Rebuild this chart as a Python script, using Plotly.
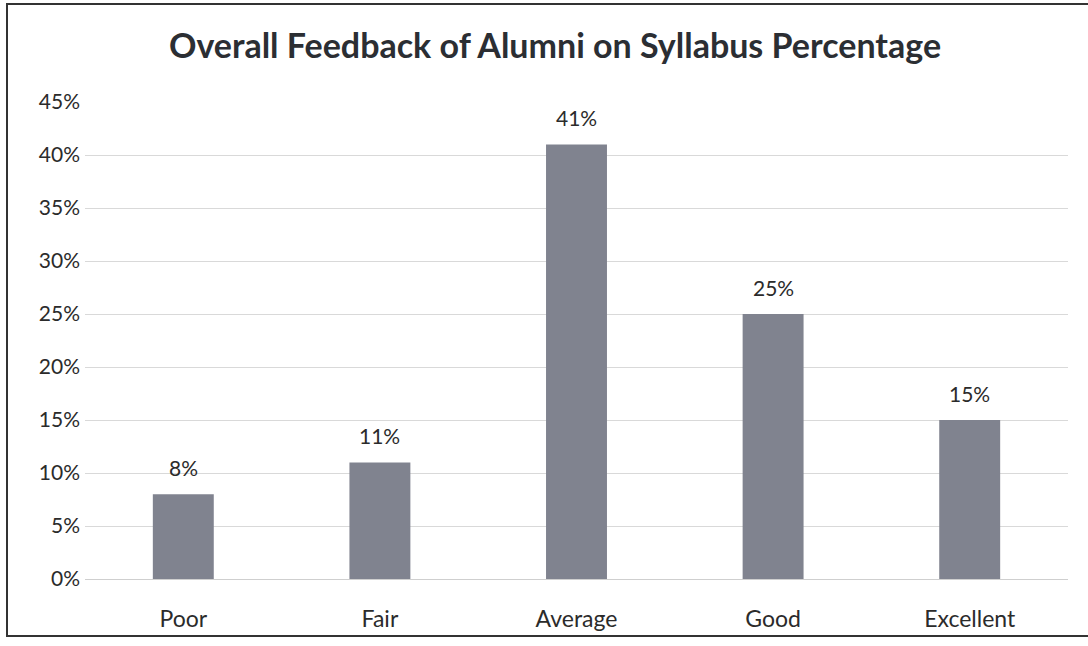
import plotly.graph_objects as go

categories = ["Poor", "Fair", "Average", "Good", "Excellent"]
values = [0.08, 0.11, 0.41, 0.25, 0.15]
tick_vals = [0, 0.05, 0.10, 0.15, 0.20, 0.25, 0.30, 0.35, 0.40, 0.45]
labels = [f"{round(v * 100)}%" for v in values]

W, H = 1088, 646
ml, mr, mt, mb = 85, 20, 102, 67
pw, ph = W - ml - mr, H - mt - mb
FONT = "Lato, Open Sans, sans-serif"

fig = go.Figure(go.Bar(
    x=categories, y=values,
    marker=dict(color="#80838f", line=dict(width=0)),
    width=0.31, hoverinfo="x+y",
))

for c, v, t in zip(categories, values, labels):
    fig.add_annotation(x=c, y=v, text=t, showarrow=False, yanchor="bottom",
                       yshift=12, font=dict(size=21, color="#2b2b2b", family=FONT))

fig.update_layout(
    width=W, height=H,
    margin=dict(l=ml, r=mr, t=mt, b=mb),
    paper_bgcolor="white", plot_bgcolor="white",
    title=dict(text="<b>Overall Feedback of Alumni on Syllabus Percentage</b>",
               x=555 / W, xref="container", xanchor="center", y=1 - 46 / H, yanchor="middle",
               font=dict(size=34, color="#2b2e33", family=FONT)),
    font=dict(family=FONT, size=18, color="#2b2b2b"),
    showlegend=False,
)
fig.update_xaxes(showgrid=False, showline=False, ticks="", tickfont=dict(size=23),
                 ticklabelstandoff=24)
fig.update_yaxes(range=[0, 0.45], tickvals=tick_vals, tickformat=".0%",
                 showgrid=True, gridcolor="#d9d9d9", gridwidth=1,
                 zeroline=True, zerolinecolor="#cfcfcf", zerolinewidth=1,
                 showline=False, ticks="", ticklen=0, tickfont=dict(size=21),
                 ticklabelstandoff=4)

fig.add_shape(type="rect", xref="paper", yref="paper",
              x0=(7 - ml) / pw, x1=(1095 - ml) / pw,
              y0=(H - mb - 636) / ph, y1=(H - mb - 4) / ph,
              line=dict(color="#333333", width=2), fillcolor="rgba(0,0,0,0)", layer="above")

fig.write_html("out.html", config={"displayModeBar": False},
               post_script="document.body.style.margin='0';document.body.style.overflow='hidden';")
